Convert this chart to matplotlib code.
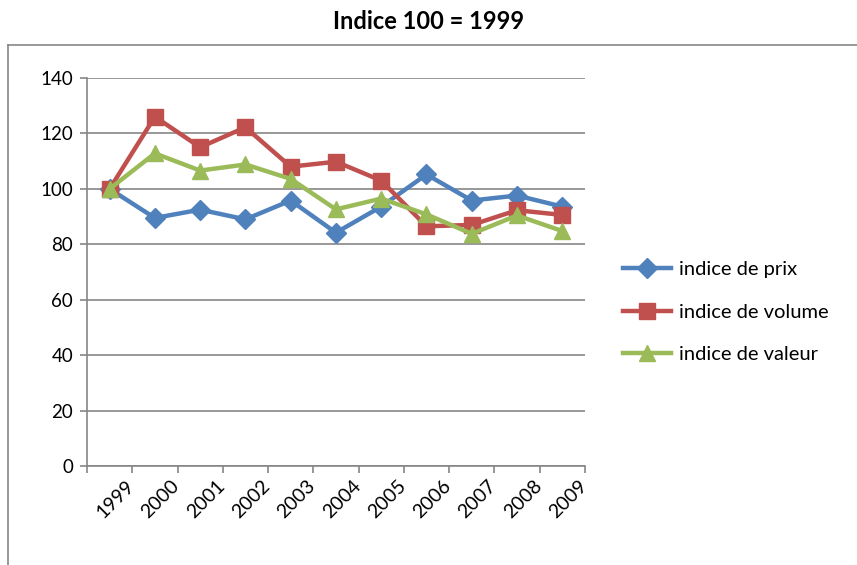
import numpy as np
import matplotlib.pyplot as plt
from matplotlib.lines import Line2D

years = ['1999', '2000', '2001', '2002', '2003', '2004',
         '2005', '2006', '2007', '2008', '2009']
prix = [100, 89.5, 92.5, 89, 95.8, 84.2, 93.6, 105.2, 95.8, 97.6, 93.6]
volume = [100, 126, 115, 122.2, 108, 109.8, 103, 86.5, 87, 92.3, 90.6]
valeur = [100, 112.8, 106.6, 108.8, 103.6, 92.6, 96.5, 90.8, 83.8, 90.4, 84.8]

plt.rcParams['font.family'] = ['Lato', 'DejaVu Sans']

fig = plt.figure(figsize=(8.57, 5.65), dpi=100)
ax = fig.add_axes([0.1015, 0.175, 0.581, 0.687])

x = np.arange(len(years))
grey = '#868686'

ax.plot(x, prix, color='#4F81BD', lw=3.2, marker='D', ms=10,
        label='indice de prix', zorder=3)
ax.plot(x, volume, color='#C0504D', lw=3.2, marker='s', ms=11,
        label='indice de volume', zorder=3)
ax.plot(x, valeur, color='#9BBB59', lw=3.2, marker='^', ms=12,
        label='indice de valeur', zorder=4)

ax.set_ylim(0, 140)
ax.set_yticks(np.arange(0, 141, 20))
ax.set_xlim(-0.5, len(years) - 0.5)
# tick marks sit between categories, labels (invisible minor ticks) under them
ax.set_xticks(np.arange(-0.5, len(years), 1.0))
ax.set_xticklabels([])
ax.set_xticks(x + 0.13, minor=True)
ax.set_xticklabels(years, minor=True, rotation=45, ha='center',
                   fontsize=14)
ax.tick_params(axis='x', which='minor', length=0, pad=8)
ax.tick_params(axis='x', which='major', length=5, color=grey, width=1.2)
ax.tick_params(axis='y', length=5, color=grey, width=1.2, labelsize=13.5, pad=5)

ax.grid(axis='y', color=grey, lw=1.2)
ax.set_axisbelow(True)
for side in ['top', 'right']:
    ax.spines[side].set_visible(False)
for side in ['left', 'bottom']:
    ax.spines[side].set_color(grey)
    ax.spines[side].set_linewidth(1.2)

fig.suptitle('Indice 100 = 1999', x=0.5, y=0.982, fontsize=17,
             fontweight='bold', va='top')

ax.legend(loc='center left', bbox_to_anchor=(1.04, 0.397), frameon=False,
          fontsize=14.5, handlelength=2.4, handletextpad=0.4,
          labelspacing=1.25)

# chart border
fig.add_artist(Line2D([0.0093, 0.0093], [0, 0.92], color=grey, lw=1.2))
fig.add_artist(Line2D([0.0093, 1.0], [0.92, 0.92], color=grey, lw=1.2))

fig.savefig('out.png', dpi=100)
